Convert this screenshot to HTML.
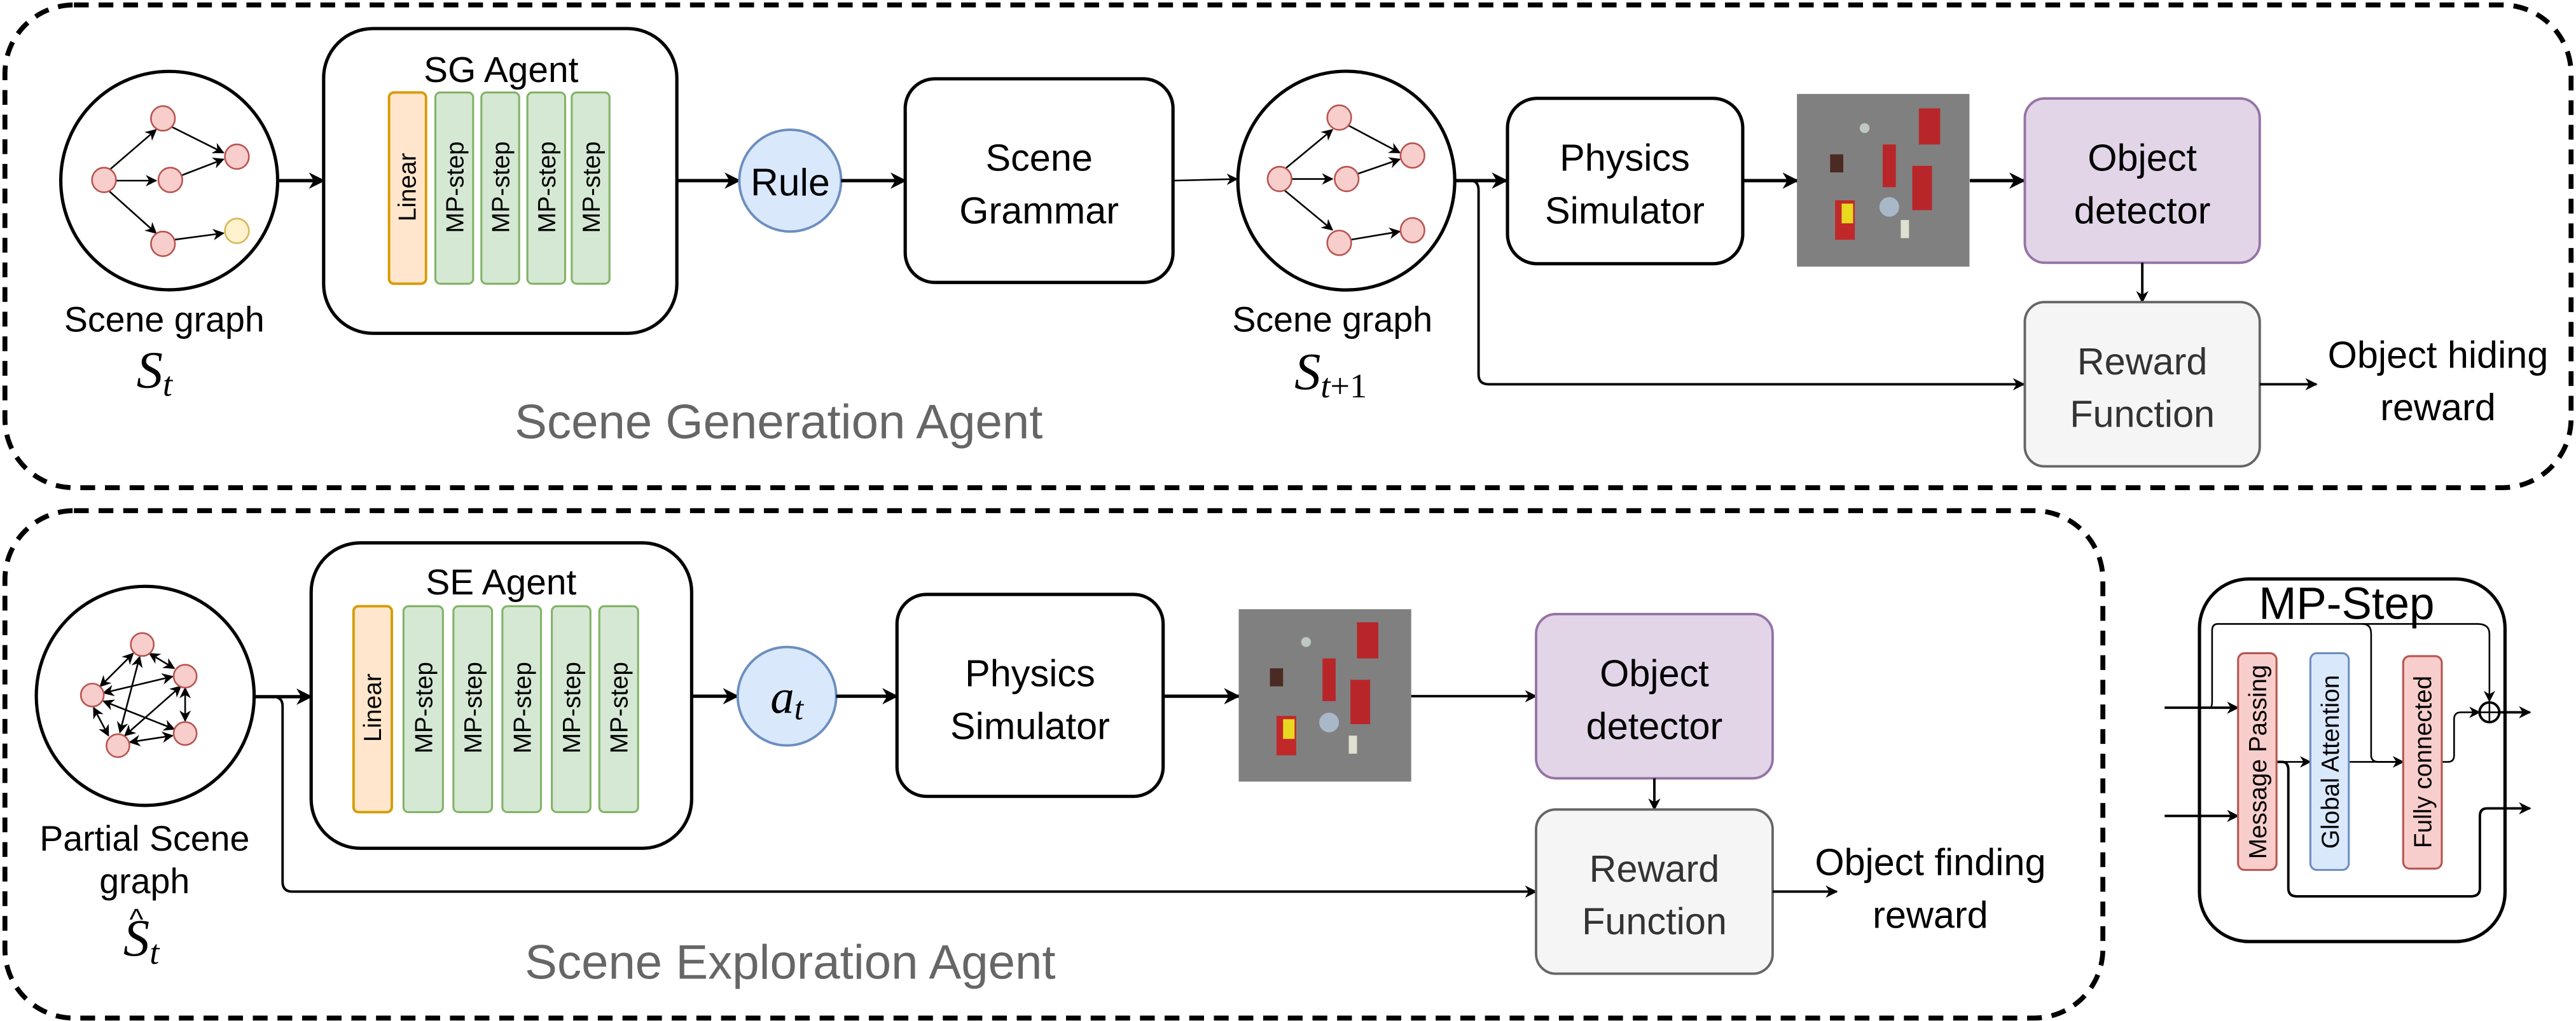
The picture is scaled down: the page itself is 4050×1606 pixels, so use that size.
<!DOCTYPE html>
<html><head><meta charset="utf-8"><style>
html,body{margin:0;padding:0;background:#fff;}
svg{display:block;}
text{font-family:"Liberation Sans",sans-serif;}
.m{font-family:"Liberation Serif",serif;font-style:italic;}
</style></head><body>
<svg width="4050" height="1606" viewBox="0 0 1568 621.8" preserveAspectRatio="none" xmlns="http://www.w3.org/2000/svg">
<defs>
<marker id="a" viewBox="0 0 10 10" refX="9" refY="5" markerWidth="5" markerHeight="5" orient="auto" markerUnits="strokeWidth"><path d="M0,0 L10,5 L0,10 L3,5 Z" fill="#000"/></marker>
<marker id="s" viewBox="0 0 10 10" refX="9" refY="5" markerWidth="7" markerHeight="7" orient="auto" markerUnits="strokeWidth"><path d="M0,0 L10,5 L0,10 L3,5 Z" fill="#000"/></marker>
<marker id="sb" viewBox="0 0 10 10" refX="1" refY="5" markerWidth="7" markerHeight="7" orient="auto" markerUnits="strokeWidth"><path d="M10,0 L0,5 L10,10 L7,5 Z" fill="#000"/></marker>
</defs>

<rect x="3" y="3" width="1562" height="294" rx="42" fill="none" stroke="#000" stroke-width="3" stroke-dasharray="9 6"/>
<rect x="3" y="311" width="1277" height="309" rx="42" fill="none" stroke="#000" stroke-width="3" stroke-dasharray="9 6"/>

<!-- ROW 1 -->
<ellipse cx="103" cy="110" rx="66" ry="66.5" fill="#fff" stroke="#000" stroke-width="2"/>
<g stroke="#000" stroke-width="1" fill="none">
<line x1="66" y1="104" x2="95" y2="79" marker-end="url(#s)"/>
<line x1="70" y1="110" x2="95" y2="110" marker-end="url(#s)"/>
<line x1="66" y1="116" x2="95" y2="142" marker-end="url(#s)"/>
<line x1="104" y1="77" x2="136" y2="93" marker-end="url(#s)"/>
<line x1="110" y1="107" x2="136" y2="97" marker-end="url(#s)"/>
<line x1="106" y1="146" x2="136" y2="142" marker-end="url(#s)"/>
</g>
<g fill="#f8cecc" stroke="#b85450" stroke-width="1">
<ellipse cx="63.3" cy="109.6" rx="7.3" ry="7.5"/><ellipse cx="99.2" cy="72.1" rx="7.3" ry="7.5"/><ellipse cx="103.7" cy="109.6" rx="7.3" ry="7.5"/><ellipse cx="144.2" cy="95.4" rx="7.3" ry="7.5"/><ellipse cx="99.2" cy="148.5" rx="7.3" ry="7.5"/>
</g>
<ellipse cx="144.2" cy="140.6" rx="7.3" ry="7.5" fill="#fff2cc" stroke="#d6b656" stroke-width="1"/>
<text x="100" y="202" font-size="21.5" text-anchor="middle">Scene graph</text>
<text x="94" y="236" font-size="32" class="m" text-anchor="middle">S<tspan font-size="21" dy="5">t</tspan></text>

<line x1="170" y1="110" x2="197" y2="110" stroke="#000" stroke-width="2" marker-end="url(#a)"/>
<rect x="197" y="17.4" width="215" height="185.6" rx="30" fill="#fff" stroke="#000" stroke-width="2"/>
<text x="305" y="50" font-size="22" text-anchor="middle">SG Agent</text>
<rect x="236.8" y="56.3" width="22.5" height="116.5" rx="3" fill="#ffe6cc" stroke="#d79b00" stroke-width="1.5"/>
<g fill="#d5e8d4" stroke="#82b366" stroke-width="1.2">
<rect x="265" y="56.3" width="23" height="116.5" rx="3"/><rect x="293" y="56.3" width="23" height="116.5" rx="3"/><rect x="321" y="56.3" width="23" height="116.5" rx="3"/><rect x="348" y="56.3" width="23" height="116.5" rx="3"/>
</g>
<g font-size="15" text-anchor="middle">
<text transform="translate(253,114) rotate(-90)">Linear</text>
<text transform="translate(282,114) rotate(-90)">MP-step</text>
<text transform="translate(310,114) rotate(-90)">MP-step</text>
<text transform="translate(338,114) rotate(-90)">MP-step</text>
<text transform="translate(365,114) rotate(-90)">MP-step</text>
</g>

<line x1="412" y1="110" x2="450" y2="110" stroke="#000" stroke-width="2" marker-end="url(#a)"/>
<circle cx="481" cy="110" r="31" fill="#dae8fc" stroke="#6c8ebf" stroke-width="1.5"/>
<text x="481" y="119" font-size="23.5" text-anchor="middle">Rule</text>
<line x1="512" y1="110" x2="551" y2="110" stroke="#000" stroke-width="2" marker-end="url(#a)"/>
<rect x="551" y="48" width="163" height="124" rx="18" fill="#fff" stroke="#000" stroke-width="2"/>
<text x="632.5" y="104" font-size="23" text-anchor="middle">Scene</text>
<text x="632.5" y="136" font-size="23" text-anchor="middle">Grammar</text>
<line x1="714" y1="110" x2="753" y2="109" stroke="#000" stroke-width="1" marker-end="url(#s)"/>

<ellipse cx="819.5" cy="110" rx="66" ry="66.6" fill="#fff" stroke="#000" stroke-width="2"/>
<g stroke="#000" stroke-width="1" fill="none">
<line x1="782" y1="103" x2="811" y2="79" marker-end="url(#s)"/>
<line x1="786" y1="109" x2="811" y2="109" marker-end="url(#s)"/>
<line x1="782" y1="116" x2="811" y2="140" marker-end="url(#s)"/>
<line x1="820" y1="76" x2="852" y2="93" marker-end="url(#s)"/>
<line x1="826" y1="106" x2="852" y2="97" marker-end="url(#s)"/>
<line x1="822" y1="146" x2="852" y2="141" marker-end="url(#s)"/>
</g>
<g fill="#f8cecc" stroke="#b85450" stroke-width="1">
<ellipse cx="778.9" cy="109" rx="7.3" ry="7.5"/><ellipse cx="815.2" cy="71.6" rx="7.3" ry="7.5"/><ellipse cx="819.7" cy="109" rx="7.3" ry="7.5"/><ellipse cx="859.8" cy="94.7" rx="7.3" ry="7.5"/><ellipse cx="815.2" cy="147.9" rx="7.3" ry="7.5"/><ellipse cx="859.8" cy="140.2" rx="7.3" ry="7.5"/>
</g>
<text x="811" y="202" font-size="21.5" text-anchor="middle">Scene graph</text>
<text x="810" y="237" font-size="32" class="m" text-anchor="middle">S<tspan font-size="21" dy="5">t</tspan><tspan font-size="21" font-style="normal">+1</tspan></text>

<line x1="886" y1="110" x2="917" y2="110" stroke="#000" stroke-width="2" marker-end="url(#a)"/>
<path d="M886,110 L895,110 Q900,110 900,116 L900,228 Q900,234 906,234 L1232,234" fill="none" stroke="#000" stroke-width="1.5" marker-end="url(#a)"/>
<rect x="917.6" y="59.9" width="143.2" height="100.7" rx="18" fill="#fff" stroke="#000" stroke-width="2"/>
<text x="989" y="104" font-size="23" text-anchor="middle">Physics</text>
<text x="989" y="136" font-size="23" text-anchor="middle">Simulator</text>
<line x1="1061" y1="110" x2="1094" y2="110" stroke="#000" stroke-width="2" marker-end="url(#a)"/>
<rect x="1093.8" y="57.2" width="105" height="105.2" fill="#808080"/>
<g>
<rect x="1168" y="66" width="13" height="22" fill="#b8262a"/><rect x="1146" y="88" width="8" height="26" fill="#b8262a"/>
<rect x="1164" y="101" width="12" height="27" fill="#b8262a"/><rect x="1114" y="94" width="8" height="11" fill="#4a2a22"/>
<circle cx="1135" cy="78" r="3" fill="#bfc9bf"/><circle cx="1150" cy="126" r="6" fill="#a9b8c8"/>
<rect x="1117" y="122" width="12" height="24" fill="#c0282a"/><rect x="1121" y="124" width="7" height="12" fill="#e8d820"/>
<rect x="1157" y="134" width="5" height="11" fill="#e0e0d0"/>
</g>
<line x1="1199" y1="110" x2="1232" y2="110" stroke="#000" stroke-width="2" marker-end="url(#a)"/>
<rect x="1232.5" y="60" width="143" height="100" rx="12" fill="#e1d5e7" stroke="#9673a6" stroke-width="1.5"/>
<text x="1304" y="104" font-size="23" text-anchor="middle">Object</text>
<text x="1304" y="136" font-size="23" text-anchor="middle">detector</text>
<line x1="1304" y1="160" x2="1304" y2="184" stroke="#000" stroke-width="1.5" marker-end="url(#a)"/>
<rect x="1232.5" y="184" width="143" height="100" rx="12" fill="#f5f5f5" stroke="#666" stroke-width="1.5"/>
<text x="1304" y="228" font-size="23" text-anchor="middle" fill="#333">Reward</text>
<text x="1304" y="260" font-size="23" text-anchor="middle" fill="#333">Function</text>
<line x1="1375.5" y1="234" x2="1410" y2="234" stroke="#000" stroke-width="1.5" marker-end="url(#a)"/>
<text x="1484" y="224" font-size="23" text-anchor="middle">Object hiding</text>
<text x="1484" y="256" font-size="23" text-anchor="middle">reward</text>
<text x="474" y="267" font-size="29.5" text-anchor="middle" fill="#666">Scene Generation Agent</text>

<!-- ROW 2 -->
<ellipse cx="88.4" cy="423.8" rx="66.3" ry="66.7" fill="#fff" stroke="#000" stroke-width="2"/>
<g stroke="#000" stroke-width="1" fill="none" marker-end="url(#s)" marker-start="url(#sb)">
<line x1="81" y1="398" x2="61" y2="418"/>
<line x1="91" y1="398" x2="106" y2="407"/>
<line x1="63" y1="422" x2="105" y2="412"/>
<line x1="85" y1="400" x2="73" y2="446"/>
<line x1="110" y1="418" x2="76" y2="448"/>
<line x1="63" y1="427" x2="106" y2="444"/>
<line x1="112.7" y1="419" x2="112.7" y2="439"/>
<line x1="57" y1="431" x2="66" y2="448"/>
<line x1="79" y1="452" x2="105" y2="448"/>
</g>
<g fill="#f8cecc" stroke="#b85450" stroke-width="1">
<circle cx="86.6" cy="392.5" r="7"/><circle cx="112.7" cy="411.8" r="7"/><circle cx="56.2" cy="423.3" r="7"/><circle cx="112.7" cy="446.7" r="7"/><circle cx="71.8" cy="454.1" r="7"/>
</g>
<text x="88" y="518" font-size="21.5" text-anchor="middle">Partial Scene</text>
<text x="88" y="544" font-size="21.5" text-anchor="middle">graph</text>
<text x="86" y="582" font-size="32" class="m" text-anchor="middle">S<tspan font-size="21" dy="5">t</tspan></text>
<text x="83" y="566" font-size="18" text-anchor="middle">^</text>

<line x1="155" y1="424.3" x2="189.4" y2="424.3" stroke="#000" stroke-width="2" marker-end="url(#a)"/>
<path d="M155,424.3 L166,424.3 Q172,424.3 172,430 L172,537 Q172,543 178,543 L935,543" fill="none" stroke="#000" stroke-width="1.5" marker-end="url(#a)"/>
<rect x="189.4" y="330.6" width="231.6" height="186" rx="30" fill="#fff" stroke="#000" stroke-width="2"/>
<text x="305" y="362" font-size="22" text-anchor="middle">SE Agent</text>
<rect x="215.2" y="369.2" width="23.3" height="125.4" rx="3" fill="#ffe6cc" stroke="#d79b00" stroke-width="1.5"/>
<g fill="#d5e8d4" stroke="#82b366" stroke-width="1.2">
<rect x="245.6" y="369.2" width="24" height="125.4" rx="3"/><rect x="276" y="369.2" width="23.5" height="125.4" rx="3"/><rect x="305.8" y="369.2" width="23.5" height="125.4" rx="3"/><rect x="335.9" y="369.2" width="23.5" height="125.4" rx="3"/><rect x="364.8" y="369.2" width="23.6" height="125.4" rx="3"/>
</g>
<g font-size="15" text-anchor="middle">
<text transform="translate(232,431) rotate(-90)">Linear</text>
<text transform="translate(263,431) rotate(-90)">MP-step</text>
<text transform="translate(293,431) rotate(-90)">MP-step</text>
<text transform="translate(323,431) rotate(-90)">MP-step</text>
<text transform="translate(353,431) rotate(-90)">MP-step</text>
<text transform="translate(382,431) rotate(-90)">MP-step</text>
</g>
<line x1="421" y1="424" x2="449" y2="424" stroke="#000" stroke-width="2" marker-end="url(#a)"/>
<circle cx="479" cy="424" r="30" fill="#dae8fc" stroke="#6c8ebf" stroke-width="1.5"/>
<text x="479" y="434" font-size="29" class="m" text-anchor="middle">a<tspan font-size="20" dy="4">t</tspan></text>
<line x1="509" y1="424" x2="546" y2="424" stroke="#000" stroke-width="2" marker-end="url(#a)"/>
<rect x="546" y="362" width="162" height="123" rx="18" fill="#fff" stroke="#000" stroke-width="2"/>
<text x="627" y="418" font-size="23" text-anchor="middle">Physics</text>
<text x="627" y="450" font-size="23" text-anchor="middle">Simulator</text>
<line x1="708" y1="424" x2="754" y2="424" stroke="#000" stroke-width="2" marker-end="url(#a)"/>
<rect x="754" y="371" width="105" height="105" fill="#808080"/>
<g>
<rect x="826" y="379" width="13" height="22" fill="#b8262a"/><rect x="805" y="401" width="8" height="26" fill="#b8262a"/>
<rect x="822" y="414" width="12" height="27" fill="#b8262a"/><rect x="773" y="407" width="8" height="11" fill="#4a2a22"/>
<circle cx="795" cy="391" r="3" fill="#bfc9bf"/><circle cx="809" cy="440" r="6" fill="#a9b8c8"/>
<rect x="777" y="436" width="12" height="24" fill="#c0282a"/><rect x="781" y="438" width="7" height="12" fill="#e8d820"/>
<rect x="821" y="448" width="5" height="11" fill="#e0e0d0"/>
</g>
<line x1="859" y1="424" x2="935" y2="424" stroke="#000" stroke-width="1.5" marker-end="url(#a)"/>
<rect x="935" y="374" width="144" height="100" rx="12" fill="#e1d5e7" stroke="#9673a6" stroke-width="1.5"/>
<text x="1007" y="418" font-size="23" text-anchor="middle">Object</text>
<text x="1007" y="450" font-size="23" text-anchor="middle">detector</text>
<line x1="1007" y1="474" x2="1007" y2="493" stroke="#000" stroke-width="1.5" marker-end="url(#a)"/>
<rect x="935" y="493" width="144" height="100" rx="12" fill="#f5f5f5" stroke="#666" stroke-width="1.5"/>
<text x="1007" y="537" font-size="23" text-anchor="middle" fill="#333">Reward</text>
<text x="1007" y="569" font-size="23" text-anchor="middle" fill="#333">Function</text>
<line x1="1079" y1="543" x2="1118" y2="543" stroke="#000" stroke-width="1.5" marker-end="url(#a)"/>
<text x="1175" y="533" font-size="23" text-anchor="middle">Object finding</text>
<text x="1175" y="565" font-size="23" text-anchor="middle">reward</text>
<text x="481" y="596" font-size="29.5" text-anchor="middle" fill="#666">Scene Exploration Agent</text>

<!-- MP-Step -->
<rect x="1338.8" y="352.6" width="186" height="220.8" rx="30" fill="#fff" stroke="#000" stroke-width="2"/>
<text x="1428.4" y="377" font-size="27.5" text-anchor="middle">MP-Step</text>
<path d="M1345,431 Q1346.5,431 1346.5,427 L1346.5,384 Q1346.5,380 1350,380 L1508,380 Q1515.3,380 1515.3,386 L1515.3,427" fill="none" stroke="#000" stroke-width="1" marker-end="url(#s)"/>
<path d="M1438,380 Q1443.3,380 1443.3,386 L1443.3,460 Q1443.3,464 1448,464 L1462.8,464" fill="none" stroke="#000" stroke-width="1" marker-end="url(#s)"/>
<line x1="1317.6" y1="431" x2="1362.3" y2="431" stroke="#000" stroke-width="1.5" marker-end="url(#a)"/>
<line x1="1317.6" y1="496.9" x2="1362.3" y2="496.9" stroke="#000" stroke-width="1.5" marker-end="url(#a)"/>
<path d="M1385.7,464 L1389,464 Q1392.9,464 1392.9,469 L1392.9,541 Q1392.9,545.9 1398,545.9 L1504,545.9 Q1509.5,545.9 1509.5,541 L1509.5,497 Q1509.5,492.3 1514,492.3 L1540,492.3" fill="none" stroke="#000" stroke-width="1.5" marker-end="url(#a)"/>
<line x1="1385.7" y1="464" x2="1406.3" y2="464" stroke="#000" stroke-width="1" marker-end="url(#s)"/>
<line x1="1429.7" y1="464" x2="1462.8" y2="464" stroke="#000" stroke-width="1" marker-end="url(#s)"/>
<path d="M1486.3,464 L1490,464 Q1493.8,464 1493.8,460 L1493.8,438 Q1493.8,433.8 1498,433.8 L1509.3,433.8" fill="none" stroke="#000" stroke-width="1" marker-end="url(#s)"/>
<rect x="1362.3" y="397.8" width="23.4" height="132" rx="4" fill="#f8cecc" stroke="#b85450" stroke-width="1.2"/>
<rect x="1406.3" y="397.8" width="23.4" height="132" rx="4" fill="#dae8fc" stroke="#6c8ebf" stroke-width="1.2"/>
<rect x="1462.8" y="399.6" width="23.5" height="129.4" rx="4" fill="#f8cecc" stroke="#b85450" stroke-width="1.2"/>
<g font-size="15" text-anchor="middle">
<text transform="translate(1379.5,464) rotate(-90)">Message Passing</text>
<text transform="translate(1423.5,464) rotate(-90)">Global Attention</text>
<text transform="translate(1480,464) rotate(-90)">Fully connected</text>
</g>
<circle cx="1515.3" cy="433.8" r="6" fill="#fff" stroke="#000" stroke-width="1.5"/>
<line x1="1509.3" y1="433.8" x2="1521.3" y2="433.8" stroke="#000" stroke-width="1"/>
<line x1="1515.3" y1="427.8" x2="1515.3" y2="439.8" stroke="#000" stroke-width="1"/>
<line x1="1521.3" y1="433.8" x2="1540" y2="433.8" stroke="#000" stroke-width="1.5" marker-end="url(#a)"/>
</svg>
</body></html>
